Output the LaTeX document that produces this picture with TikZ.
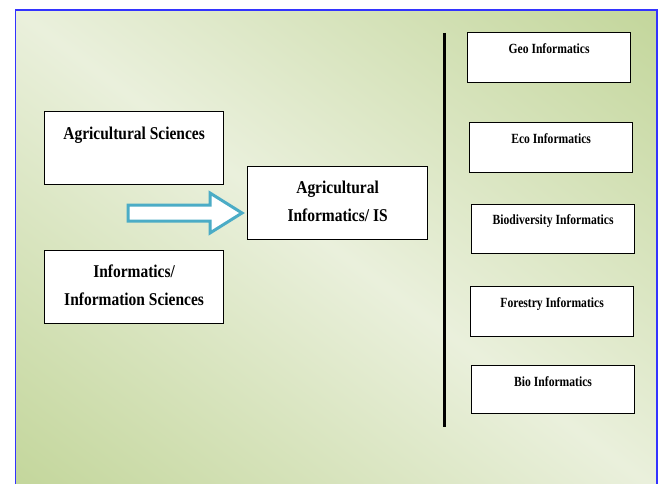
\documentclass[tikz,border=0pt]{standalone}
\usepackage{fontspec}
\setmainfont{Liberation Serif}
\newfontfamily\bigf{Liberation Serif}[FakeStretch=0.86]
\newfontfamily\smallf{Liberation Serif}[FakeStretch=0.83]
\definecolor{bglight}{HTML}{EAF0DC}
\definecolor{bggreen}{HTML}{C3D69B}
\definecolor{framebl}{HTML}{3333FF}
\definecolor{arrowteal}{HTML}{4BACC6}
\begin{document}
\begin{tikzpicture}[x=1pt,y=-1pt,
  box/.style={draw=black, line width=1.2pt, fill=white, anchor=north west, inner sep=0pt},
  bigtxt/.style={font=\bigf\bfseries\fontsize{18}{28.5}\selectfont, align=center, inner sep=0pt},
  smalltxt/.style={font=\smallf\bfseries\fontsize{14}{16}\selectfont, align=center, inner sep=0pt}]
\useasboundingbox (0,0) rectangle (661,484);
\fill[white] (0,0) rectangle (661,484);
\begin{scope}
  \clip (15.5,10) rectangle (657,490);
  \begin{scope}[transform canvas={rotate around={-36.8:(336.25,250)}}]
    \shade[top color=bggreen, bottom color=bggreen, middle color=bglight]
      (-200,-134.3) rectangle (872.5,634.3);
  \end{scope}
\end{scope}
\draw[framebl, line width=1.5pt] (15.5,490) -- (15.5,10) -- (657,10) -- (657,490);
% left boxes
\node[box, minimum width=179pt, minimum height=73pt] (agsci) at (44,111) {};
\node[bigtxt] (agscit) at ([yshift=-24pt]agsci.north) {Agricultural Sciences};
\node[box, minimum width=179pt, minimum height=73pt] (infsci) at (44,250) {};
\node[bigtxt] (infscit) at ([yshift=2pt]infsci.center) {Informatics/\\Information Sciences};
% middle box
\node[box, minimum width=180pt, minimum height=73pt] (agis) at (247,166) {};
\node[bigtxt] (agist) at ([yshift=2pt]agis.center) {Agricultural\\Informatics/ IS};
% arrow
\coordinate (a0) at (128,213);
\draw[arrowteal, line width=3pt, fill=white, line join=miter]
  (128,205) -- (210,205) -- (210,193) -- (242,213) -- (210,233) -- (210,221) -- (128,221) -- cycle;
% vertical bar
\coordinate (vtop) at (444,33);
\coordinate (vbot) at (444,427);
\draw[black, line width=3pt] (vtop) -- (vbot);
% right boxes
\node[box, minimum width=163pt, minimum height=50pt] (geo) at (467,32) {};
\node[smalltxt] (geot) at ([yshift=-17pt]geo.north) {Geo Informatics};
\node[box, minimum width=163pt, minimum height=50pt] (eco) at (469,122) {};
\node[smalltxt] (ecot) at ([yshift=-17pt]eco.north) {Eco Informatics};
\node[box, minimum width=163pt, minimum height=49pt] (bdiv) at (471,204) {};
\node[smalltxt] (bdivt) at ([yshift=-17pt]bdiv.north) {Biodiversity Informatics};
\node[box, minimum width=163pt, minimum height=50pt] (fore) at (470,286) {};
\node[smalltxt] (foret) at ([yshift=-18pt]fore.north) {Forestry Informatics};
\node[box, minimum width=163pt, minimum height=48pt] (bio) at (471,365) {};
\node[smalltxt] (biot) at ([yshift=-17pt]bio.north) {Bio Informatics};
\end{tikzpicture}
\end{document}
